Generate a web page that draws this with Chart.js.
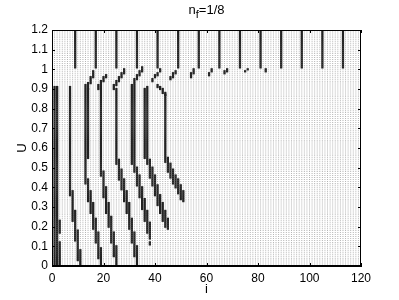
<!DOCTYPE html>
<html>
<head>
<meta charset="utf-8">
<script src="https://cdn.jsdelivr.net/npm/chart.js"></script>
<style>
  html, body { margin: 0; padding: 0; background: #fff; }
</style>
</head>
<body>
<canvas id="chart" width="399" height="300"></canvas>
<script>
// Axis ticks
const xTicks = [0, 20, 40, 60, 80, 100, 120];
const yTicks = [0, 0.1, 0.2, 0.3, 0.4, 0.5, 0.6, 0.7, 0.8, 0.9, 1, 1.1, 1.2];

// Lattice: sites i = 1..siteCount, U sampled every uStep up to uMax
const siteCount = 119;
const uStep = 0.01;
const uMax = 1.2;

// Long vertical runs at large U (one every 8 sites)
const topLineSites = [9, 17, 25, 33, 41, 49, 57, 65, 73, 81, 89, 97, 105, 113];
const topLineU = [1.01, 1.2];

// Mid-range vertical runs [site, uLow, uHigh]
const midRuns = [
  [1, 0.00, 0.91], [2, 0.00, 0.91], [3, 0.17, 0.23], [3, 0.00, 0.12],
  [7, 0.36, 0.91], [13, 0.42, 0.92], [14, 0.55, 0.90], [19, 0.46, 0.91],
  [25, 0.52, 0.90], [31, 0.52, 0.92], [32, 0.48, 0.92], [36, 0.55, 0.90],
  [37, 0.52, 0.91], [44, 0.53, 0.87]
];

// Strands drifting right as U drops [site, uLow, uHigh]
const lowerRuns = [
  [8, 0.23, 0.38], [9, 0.13, 0.28], [10, 0.03, 0.18], [11, 0.00, 0.08],
  [14, 0.33, 0.44], [15, 0.27, 0.38], [16, 0.19, 0.32], [17, 0.12, 0.24], [18, 0.04, 0.17], [19, 0.00, 0.09],
  [20, 0.35, 0.48], [21, 0.27, 0.40], [22, 0.20, 0.32], [23, 0.12, 0.25], [24, 0.05, 0.17], [25, 0.00, 0.10],
  [26, 0.44, 0.54], [27, 0.39, 0.49], [28, 0.33, 0.44], [29, 0.27, 0.38], [30, 0.19, 0.32], [31, 0.12, 0.24], [32, 0.05, 0.17], [33, 0.00, 0.10],
  [33, 0.41, 0.50], [34, 0.35, 0.46], [35, 0.29, 0.40], [36, 0.23, 0.34], [37, 0.17, 0.28], [38, 0.14, 0.22], [38, 0.11, 0.12],
  [38, 0.45, 0.54], [39, 0.41, 0.50], [40, 0.36, 0.46], [41, 0.31, 0.41], [42, 0.27, 0.36], [43, 0.23, 0.32], [44, 0.20, 0.28], [45, 0.19, 0.24],
  [45, 0.48, 0.55], [46, 0.45, 0.52], [47, 0.42, 0.49], [48, 0.40, 0.46], [49, 0.37, 0.44], [50, 0.34, 0.41], [51, 0.33, 0.38]
];

// Short diagonal steps just below U = 1 [site, uLow, uHigh]
const stepRuns = [
  [14, 0.90, 0.93], [15, 0.93, 0.96], [16, 0.96, 0.99],
  [18, 0.90, 0.92], [19, 0.92, 0.94], [20, 0.94, 0.96], [21, 0.96, 0.97],
  [24, 0.90, 0.92], [25, 0.92, 0.94], [26, 0.94, 0.96], [27, 0.96, 0.98], [28, 0.98, 1.00],
  [32, 0.93, 0.95], [33, 0.95, 0.97], [34, 0.97, 0.99], [35, 0.99, 1.01],
  [39, 0.94, 0.95], [40, 0.96, 0.97], [41, 0.97, 0.98], [42, 0.99, 1.00],
  [41, 0.91, 0.92], [42, 0.90, 0.91], [43, 0.88, 0.90], [44, 0.87, 0.88],
  [46, 0.95, 0.96], [47, 0.96, 0.98], [48, 0.98, 0.99],
  [54, 0.96, 0.98], [55, 0.98, 1.00],
  [61, 0.97, 0.98], [62, 0.99, 1.00],
  [67, 0.98, 0.99], [68, 0.99, 1.00],
  [75, 0.99, 0.99], [76, 1.00, 1.00],
  [83, 0.99, 1.00]
];

// Build point lists from the lattice
const rows = Math.round(uMax / uStep);
const grayPoints = [];
for (let i = 1; i <= siteCount; i++) {
  for (let r = 0; r <= rows; r++) {
    grayPoints.push({ x: i, y: r * uStep });
  }
}

const allRuns = midRuns.concat(lowerRuns, stepRuns,
  topLineSites.map(s => [s, topLineU[0], topLineU[1]]));
const blackPoints = [];
allRuns.forEach(([site, lo, hi]) => {
  const r0 = Math.round(lo / uStep);
  const r1 = Math.round(hi / uStep);
  for (let r = r0; r <= r1; r++) {
    blackPoints.push({ x: site, y: r * uStep });
  }
});

const FONT = '"Liberation Sans", Arial, sans-serif';

// Box, inward ticks, title and axis labels in MATLAB style
const frame = {
  id: 'frame',
  afterDraw(chart) {
    const { ctx, chartArea: a, scales } = chart;
    ctx.save();
    ctx.strokeStyle = '#000';
    ctx.lineWidth = 1;
    ctx.strokeRect(a.left + 0.5, a.top + 0.5, a.right - a.left - 1, a.bottom - a.top - 1);
    ctx.beginPath();
    const tl = 3;
    xTicks.forEach(v => {
      const px = Math.round(scales.x.getPixelForValue(v)) + 0.5;
      ctx.moveTo(px, a.bottom); ctx.lineTo(px, a.bottom - tl);
      ctx.moveTo(px, a.top); ctx.lineTo(px, a.top + tl);
    });
    yTicks.forEach(v => {
      const py = Math.round(scales.y.getPixelForValue(v)) + 0.5;
      ctx.moveTo(a.left, py); ctx.lineTo(a.left + tl, py);
      ctx.moveTo(a.right, py); ctx.lineTo(a.right - tl, py);
    });
    ctx.stroke();

    ctx.fillStyle = '#000';
    // title n_f=1/8
    ctx.font = '13px ' + FONT;
    const sub = '11px ' + FONT;
    ctx.textBaseline = 'alphabetic';
    const w1 = ctx.measureText('n').width;
    const w3 = ctx.measureText('=1/8').width;
    ctx.font = sub;
    const w2 = ctx.measureText('f').width;
    const cx = (a.left + a.right) / 2;
    let tx = cx - (w1 + w2 + w3) / 2;
    const ty = 14;
    ctx.font = '13px ' + FONT;
    ctx.fillText('n', tx, ty); tx += w1;
    ctx.font = sub;
    ctx.fillText('f', tx, ty + 4); tx += w2;
    ctx.font = '13px ' + FONT;
    ctx.fillText('=1/8', tx, ty);

    // axis labels
    ctx.font = '13px ' + FONT;
    ctx.textAlign = 'center';
    ctx.fillText('i', cx, 293);
    ctx.translate(26, (a.top + a.bottom) / 2);
    ctx.rotate(-Math.PI / 2);
    ctx.fillText('U', 0, 0);
    ctx.restore();
  }
};

new Chart(document.getElementById('chart'), {
  type: 'scatter',
  data: {
    datasets: [
      {
        data: blackPoints,
        pointStyle: 'rect',
        pointRadius: 1.6,
        pointBorderWidth: 0,
        pointBackgroundColor: '#222'
      },
      {
        data: grayPoints,
        pointStyle: 'rect',
        pointRadius: 0.7,
        pointBorderWidth: 0,
        pointBackgroundColor: '#b4b4b4'
      }
    ]
  },
  options: {
    responsive: false,
    animation: false,
    devicePixelRatio: 1,
    layout: { padding: { top: 30, right: 38, left: 0, bottom: 0 } },
    plugins: { legend: { display: false }, tooltip: { enabled: false } },
    scales: {
      x: {
        type: 'linear', min: 0, max: 120,
        afterFit: s => { s.height = 34; },
        afterBuildTicks: s => { s.ticks = xTicks.map(v => ({ value: v })); },
        ticks: { color: '#000', font: { family: FONT, size: 12 }, padding: 5, maxRotation: 0 },
        grid: { display: false, drawTicks: false },
        border: { color: '#000' }
      },
      y: {
        type: 'linear', min: 0, max: 1.2,
        afterFit: s => { s.width = 52; },
        afterBuildTicks: s => { s.ticks = yTicks.map(v => ({ value: v })); },
        ticks: { color: '#000', font: { family: FONT, size: 12 }, padding: 4,
                 callback: v => String(+v.toFixed(1)) },
        grid: { display: false, drawTicks: false },
        border: { color: '#000' }
      }
    }
  },
  plugins: [frame]
});
</script>
</body>
</html>
